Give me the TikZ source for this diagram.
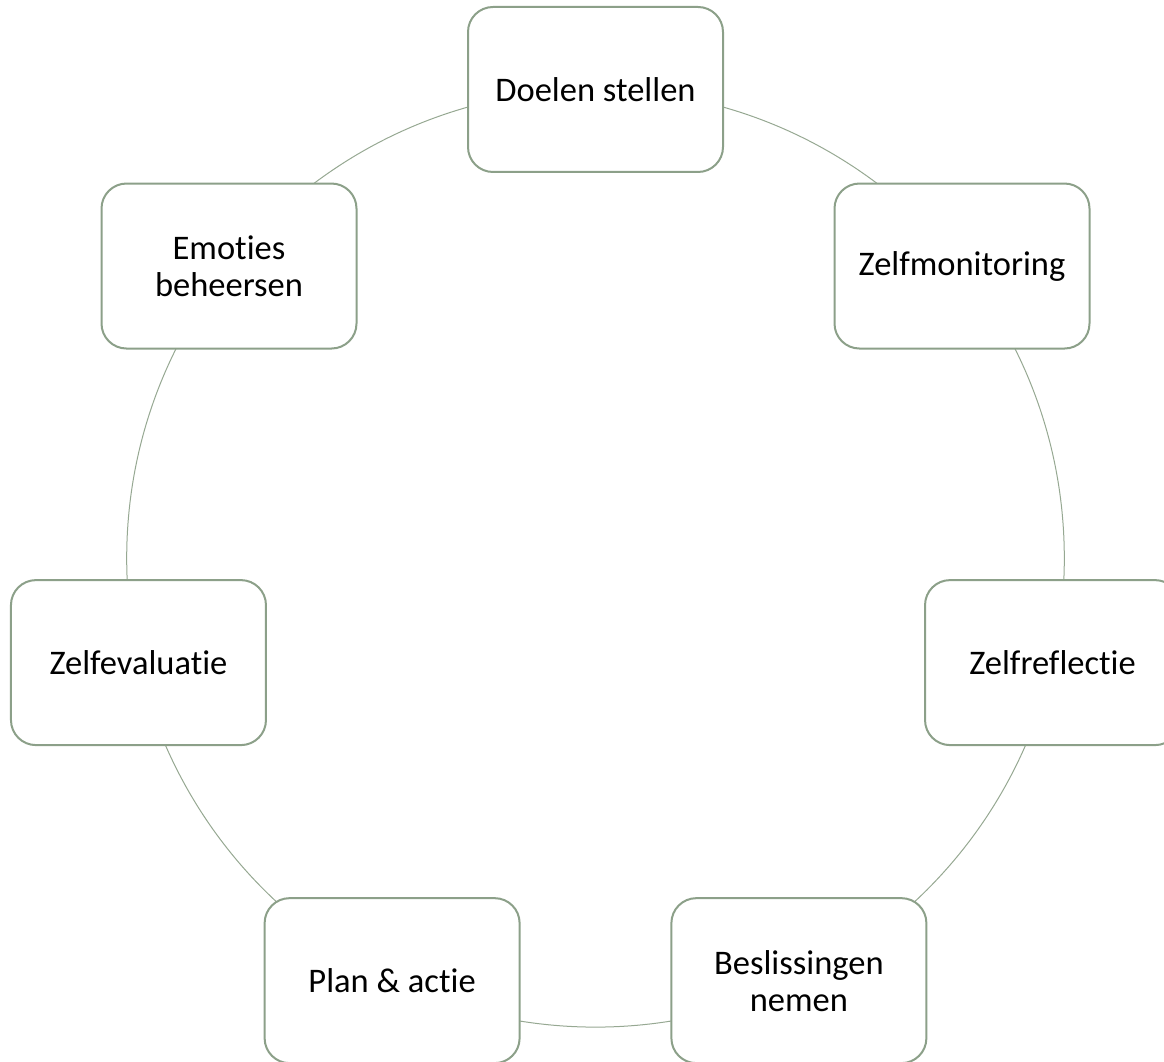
\documentclass[tikz,border=0pt]{standalone}
\usepackage{fontspec}
\setmainfont{Carlito}[Ligatures=NoCommon]
\definecolor{boxline}{RGB}{140,160,137}
\definecolor{ringline}{RGB}{150,168,146}
\begin{document}
\begin{tikzpicture}[x=1pt,y=1pt,
  stepbox/.style={draw=boxline, line width=2pt, fill=white, rounded corners=25pt,
    minimum width=255pt, minimum height=165pt, align=center, inner sep=0pt,
    font=\fontsize{34.5}{37}\selectfont},
  ring/.style={draw=ringline, line width=1pt}]
\useasboundingbox (0,0) rectangle (1164,1061);
\coordinate (c) at (595.5,502.7);
\draw[ring] (c) circle (468.8);
\node[stepbox] (n1) at ([shift={(90:468.8)}]c) {Doelen stellen};
\node[stepbox] (n2) at ([shift={(38.571:468.8)}]c) {Zelfmonitoring};
\node[stepbox] (n3) at ([shift={(-12.857:468.8)}]c) {Zelfreflectie};
\node[stepbox] (n4) at ([shift={(-64.286:468.8)}]c) {Beslissingen\\nemen};
\node[stepbox] (n5) at ([shift={(-115.714:468.8)}]c) {Plan \& actie};
\node[stepbox] (n6) at ([shift={(-167.143:468.8)}]c) {Zelfevaluatie};
\node[stepbox] (n7) at ([shift={(141.429:468.8)}]c) {Emoties\\beheersen};
\end{tikzpicture}
\end{document}
